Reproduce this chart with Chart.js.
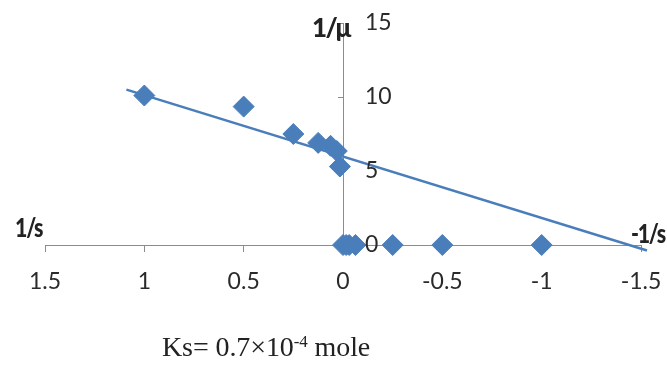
<!DOCTYPE html>
<html>
<head>
<meta charset="utf-8">
<script src="https://cdn.jsdelivr.net/npm/chart.js@4"></script>
<style>
  body { margin: 0; background: #fff; }
  #wrap { position: relative; width: 667px; height: 365px; }
  .lbl { position: absolute; font-family: Lato, sans-serif; font-weight: 900; color: #222; white-space: nowrap; letter-spacing: -1.5px; }
  .narrow { transform: scaleX(0.82); transform-origin: left top; }
  #ks { position: absolute; left: 162px; top: 331px; font-family: 'Liberation Serif', serif; font-size: 28px; color: #222; letter-spacing: -0.1px; white-space: nowrap; }
  #ks sup { font-size: 17px; vertical-align: 9px; line-height: 0; }
</style>
</head>
<body>
<div id="wrap">
  <canvas id="chart" width="667" height="365"></canvas>
  <div class="lbl narrow" style="left:15px; top:211px; font-size:26px;">1/s</div>
  <div class="lbl narrow" style="left:631px; top:217px; font-size:26px;">-1/s</div>
  <div class="lbl" style="left:312px; top:11px; font-size:26px;">1/μ</div>
  <div id="ks">Ks= 0.7×10<sup>-4</sup> mole</div>
</div>
<script>
// measured points (1/s, 1/mu)
const pointX = [1, 0.5, 0.25, 0.125, 0.0625, 0.03125, 0.015625,
  0, -0.015625, -0.03125, -0.0625, -0.25, -0.5, -1];
const pointY = [10.1, 9.35, 7.5, 6.9, 6.7, 6.35, 5.3,
  0, 0, 0, 0, 0, 0, 0];

// linear fit drawn across the plot
const fitX = [1.09, -1.53];
const fitY = [10.5, -0.37];

const yTickValues = [0, 5, 10, 15];

const BLUE = '#4a7ebb';
const AXIS = '#8c8c8c';

const yLabels = {
  id: 'yLabels',
  afterDraw(chart) {
    const { ctx, scales: { x, y } } = chart;
    const x0 = x.getPixelForValue(0);
    ctx.save();
    ctx.font = '23px Lato';
    ctx.fillStyle = '#2a2a2a';
    ctx.textAlign = 'left';
    ctx.textBaseline = 'middle';
    yTickValues.forEach(v => ctx.fillText(String(v), x0 + 22, y.getPixelForValue(v)));
    ctx.restore();
  }
};

new Chart(document.getElementById('chart'), {
  type: 'scatter',
  data: {
    datasets: [
      {
        type: 'line',
        data: fitX.map((v, i) => ({ x: v, y: fitY[i] })),
        borderColor: BLUE,
        borderWidth: 2.5,
        pointRadius: 0,
        clip: false,
        order: 2
      },
      {
        data: pointX.map((v, i) => ({ x: v, y: pointY[i] })),
        pointStyle: 'rectRot',
        pointRadius: 10.5,
        backgroundColor: BLUE,
        borderColor: BLUE,
        borderWidth: 1,
        clip: false,
        order: 1
      }
    ]
  },
  options: {
    responsive: false,
    animation: false,
    layout: { padding: { left: 45, right: 26, top: 23, bottom: 120 } },
    plugins: { legend: { display: false }, tooltip: { enabled: false } },
    scales: {
      x: {
        type: 'linear',
        min: -1.5,
        max: 1.5,
        reverse: true,
        position: { y: 0 },
        afterFit: s => { s.paddingLeft = 0; s.paddingRight = 0; },
        ticks: {
          stepSize: 0.5,
          color: '#2a2a2a',
          font: { family: 'Lato', size: 23 },
          padding: 17,
          maxRotation: 0,
          callback: v => String(Number(v.toFixed(2)))
        },
        grid: { drawOnChartArea: false, drawTicks: true, tickLength: 6, color: AXIS },
        border: { color: AXIS, width: 1 }
      },
      y: {
        min: 0,
        max: 15,
        position: { x: 0 },
        afterFit: s => { s.paddingTop = 0; s.paddingBottom = 0; },
        ticks: { display: false, stepSize: 5 },
        grid: { drawOnChartArea: false, drawTicks: true, tickLength: 5, color: AXIS },
        border: { color: AXIS, width: 1 }
      }
    }
  },
  plugins: [yLabels]
});
</script>
</body>
</html>
